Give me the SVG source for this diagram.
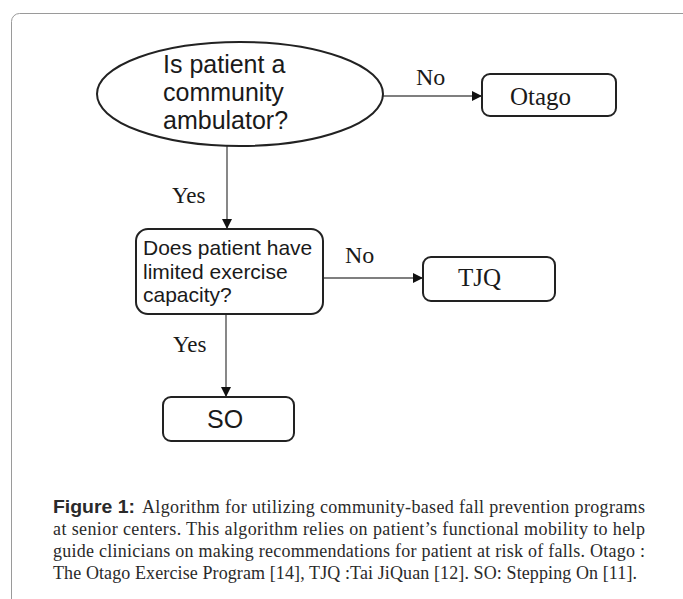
<svg xmlns="http://www.w3.org/2000/svg" width="683" height="599" viewBox="0 0 683 599">
<defs>
<marker id="arr" viewBox="0 0 10 10" refX="10" refY="5" markerWidth="10" markerHeight="10" markerUnits="userSpaceOnUse" orient="auto">
<path d="M0,0 L10,5 L0,10 z" fill="#111"/>
</marker>
</defs>
<style>
.shape{fill:#fff;stroke:#222;stroke-width:2}
.conn{stroke:#555;stroke-width:1.4;fill:none;marker-end:url(#arr)}
.sans{font-family:"Liberation Sans",Arial,sans-serif;fill:#1a1a1a}
.serif{font-family:"Liberation Serif","Times New Roman",serif;fill:#1a1a1a}
.cap{font-family:"Liberation Serif","Times New Roman",serif;font-size:18px;fill:#2a2a2a}
</style>
<rect x="11.5" y="13.5" width="700" height="640" rx="8" fill="#fff" stroke="#9a9a9a" stroke-width="1"/>
<g id="connectors">
<line class="conn" x1="383" y1="96" x2="482" y2="96"/>
<line class="conn" x1="227" y1="146" x2="227" y2="229"/>
<line class="conn" x1="323" y1="278" x2="423" y2="278"/>
<line class="conn" x1="226" y1="314" x2="226" y2="397"/>
<text class="serif" x="416" y="85" font-size="24">No</text>
<text class="serif" x="172" y="203" font-size="23">Yes</text>
<text class="serif" x="345" y="263" font-size="24">No</text>
<text class="serif" x="173" y="352" font-size="23">Yes</text>
</g>
<g id="q1">
<ellipse class="shape" cx="240" cy="94" rx="143" ry="52"/>
<text class="sans" font-size="25"><tspan x="163" y="73">Is patient a</tspan><tspan x="163" y="101">community</tspan><tspan x="163" y="129">ambulator?</tspan></text>
</g>
<g id="otago">
<rect class="shape" x="482" y="74" width="134" height="42" rx="8"/>
<text class="serif" x="510" y="105" font-size="25">Otago</text>
</g>
<g id="q2">
<rect class="shape" x="136" y="229" width="187" height="85" rx="12"/>
<text class="sans" font-size="21"><tspan x="143" y="255">Does patient have</tspan><tspan x="143" y="279">limited exercise</tspan><tspan x="143" y="302">capacity?</tspan></text>
</g>
<g id="tjq">
<rect class="shape" x="423" y="257" width="132" height="44" rx="8"/>
<text class="serif" x="458" y="286" font-size="25">TJQ</text>
</g>
<g id="so">
<rect class="shape" x="163" y="397" width="131" height="44" rx="8"/>
<text class="sans" x="207" y="428" font-size="25">SO</text>
</g>
<g id="caption">
<text x="53" y="513" font-family="Liberation Sans,Arial,sans-serif" font-weight="bold" font-size="19" fill="#2a2a2a" textLength="82" lengthAdjust="spacingAndGlyphs">Figure 1:</text>
<text class="cap" x="142" y="513" textLength="503" lengthAdjust="spacing">Algorithm for utilizing community-based fall prevention programs</text>
<text class="cap" x="53" y="535" textLength="592" lengthAdjust="spacing">at senior centers. This algorithm relies on patient’s functional mobility to help</text>
<text class="cap" x="53" y="557" textLength="592" lengthAdjust="spacing">guide clinicians on making recommendations for patient at risk of falls. Otago :</text>
<text class="cap" x="53" y="579" textLength="584" lengthAdjust="spacing">The Otago Exercise Program [14], TJQ :Tai JiQuan [12]. SO: Stepping On [11].</text>
</g>
</svg>
